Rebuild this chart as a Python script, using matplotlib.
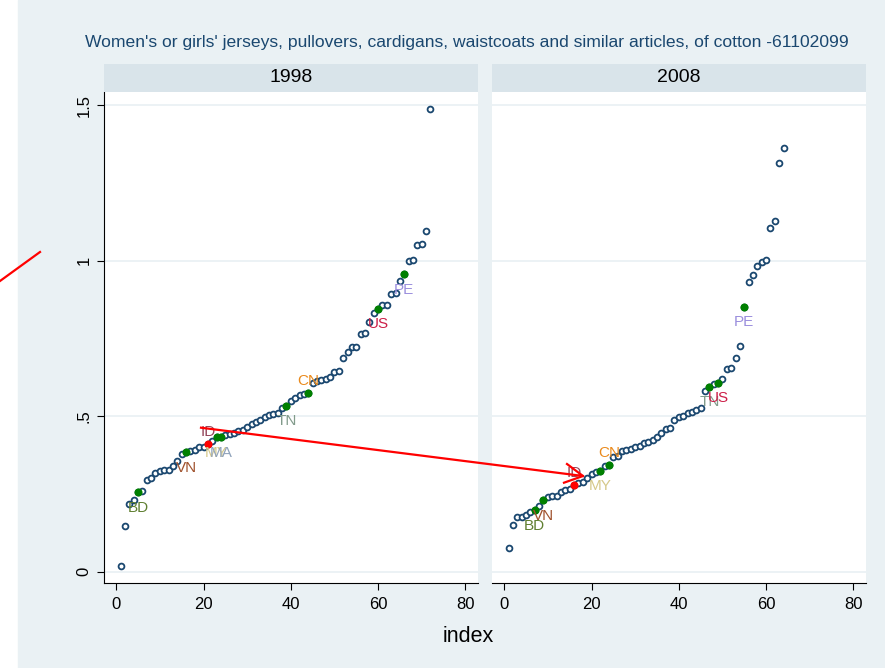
#---------------------------------------------------------------------------------
# Unit values of exporters, sorted, for HS 61102099 in 1998 and 2008
#---------------------------------------------------------------------------------

import numpy as np
import matplotlib.pyplot as plt
from matplotlib.lines import Line2D
from matplotlib.patches import Rectangle

#--- DATA ---#

title = "Women's or girls' jerseys, pullovers, cardigans, waistcoats and similar articles, of cotton -61102099"
years = ["1998", "2008"]

# sorted values, one per exporter (x = rank)
val_1998 = [0.019, 0.148, 0.218, 0.230, 0.255, 0.260, 0.295, 0.303, 0.318, 0.324,
            0.326, 0.327, 0.340, 0.356, 0.380, 0.384, 0.389, 0.391, 0.400, 0.402,
            0.412, 0.421, 0.433, 0.433, 0.440, 0.442, 0.445, 0.453, 0.456, 0.466,
            0.474, 0.481, 0.488, 0.498, 0.505, 0.506, 0.509, 0.527, 0.534, 0.549,
            0.557, 0.568, 0.570, 0.576, 0.606, 0.613, 0.616, 0.620, 0.627, 0.643,
            0.645, 0.688, 0.705, 0.723, 0.723, 0.763, 0.766, 0.804, 0.831, 0.845,
            0.859, 0.859, 0.892, 0.897, 0.936, 0.956, 0.999, 1.001, 1.050, 1.055,
            1.095, 1.486]
val_2008 = [0.075, 0.149, 0.177, 0.177, 0.181, 0.192, 0.198, 0.213, 0.230, 0.239,
            0.242, 0.244, 0.258, 0.262, 0.266, 0.280, 0.284, 0.290, 0.301, 0.314,
            0.320, 0.325, 0.339, 0.344, 0.370, 0.371, 0.388, 0.393, 0.395, 0.402,
            0.404, 0.413, 0.418, 0.423, 0.434, 0.447, 0.459, 0.461, 0.488, 0.496,
            0.500, 0.509, 0.514, 0.519, 0.527, 0.582, 0.595, 0.603, 0.608, 0.620,
            0.653, 0.656, 0.686, 0.727, 0.852, 0.930, 0.954, 0.984, 0.995, 1.001,
            1.104, 1.128, 1.314, 1.361]

# highlighted exporters and their rank
codes_1998 = ["BD", "VN", "ID", "MY", "MA", "TN", "CN", "US", "PE"]
rank_1998 = [5, 16, 21, 23, 24, 39, 44, 60, 66]
codes_2008 = ["BD", "VN", "ID", "MY", "CN", "TN", "US", "PE"]
rank_2008 = [7, 9, 16, 22, 24, 47, 49, 55]

xticks = [0, 20, 40, 60, 80]
yticks = [0, 0.5, 1, 1.5]
ytick_labels = ["0", ".5", "1", "1.5"]

#--- STYLE ---#

plt.rcParams['font.family'] = ['Liberation Sans', 'DejaVu Sans']
bg = "#eaf1f4"
strip = "#d9e4ea"
navy = "#1a476f"
lab_col = {"BD": "#5f7f30", "VN": "#a0522d", "ID": "#93455a", "MY": "#d6c98a",
           "MA": "#8fa2ba", "TN": "#819b8b", "CN": "#ea8a1c", "US": "#cc1f48",
           "PE": "#9b8fdd"}
above = ["ID", "CN"]

W, H = 885, 668
def fx(px): return px/W
def fy(py): return 1 - py/H

#--- FIGURE ---#

fig = plt.figure(figsize=(W/100, H/100), dpi=100, facecolor="white")
fig.patches.append(Rectangle((fx(18), 0), 1 - fx(18), 1, transform=fig.transFigure,
                             color=bg, zorder=-10))

top, bot = 92, 583
panels = [(104, 478, val_1998, codes_1998, rank_1998),
          (492, 866, val_2008, codes_2008, rank_2008)]

for k, (left, right, vals, codes, ranks) in enumerate(panels):
    ax = fig.add_axes([fx(left), fy(bot), (right-left)/W, (bot-top)/H])
    ax.set_facecolor("white")
    idx = np.arange(1, len(vals)+1)
    ax.plot(idx, vals, 'o', ms=4.2, mfc='white', mec=navy, mew=1.3, ls='none', zorder=3)
    for c, r in zip(codes, ranks):
        v = vals[r-1]
        ax.plot(r, v, 'o', ms=5.8, color='red' if c == "ID" else '#008000', mec='none', zorder=4)
        dy = 8.4 if c in above else -11.2
        ax.annotate(c, (r, v), xytext=(0, dy), textcoords='offset points', ha='center',
                    va='center', fontsize=11, color=lab_col[c], zorder=5)

    ax.set_xlim(-2.8, 82.9)
    ax.set_ylim(-0.036, 1.542)
    for y in yticks:
        ax.axhline(y, color=bg, lw=1.3, zorder=1)
    ax.set_xticks(xticks)
    ax.tick_params(axis='x', length=5, width=0.8, pad=5, labelsize=12)
    for s in ["top", "right"]:
        ax.spines[s].set_visible(False)
    ax.spines["bottom"].set_linewidth(0.8)
    if k == 0:
        ax.set_yticks(yticks)
        ax.set_yticklabels(ytick_labels, rotation=90, va='center')
        ax.tick_params(axis='y', length=5, width=0.8, pad=4, labelsize=12)
        ax.spines["left"].set_linewidth(0.8)
    else:
        ax.set_yticks([])
        ax.spines["left"].set_visible(False)

    # panel header
    hx = fig.add_axes([fx(left), fy(top), (right-left)/W, (top-64)/H])
    hx.set_facecolor(strip)
    hx.set_xticks([]); hx.set_yticks([])
    for s in hx.spines.values():
        s.set_visible(False)
    hx.text(0.5, 0.5, years[k], ha='center', va='center', fontsize=14, transform=hx.transAxes)

fig.text(fx(467), fy(43), title, ha='center', va='center', fontsize=12.6, color=navy)
fig.text(fx(468), fy(637), "index", ha='center', va='center', fontsize=15.5)

#--- RED ANNOTATION ---#

def red_line(xs, ys):
    fig.add_artist(Line2D([fx(x) for x in xs], [fy(y) for y in ys], color='red', lw=1.6,
                          transform=fig.transFigure, zorder=20))

red_line([201, 583], [427.7, 476])
red_line([567, 583, 564], [464, 476, 482.7])
red_line([0, 40], [281, 252])

plt.savefig("out.png", dpi=100)
